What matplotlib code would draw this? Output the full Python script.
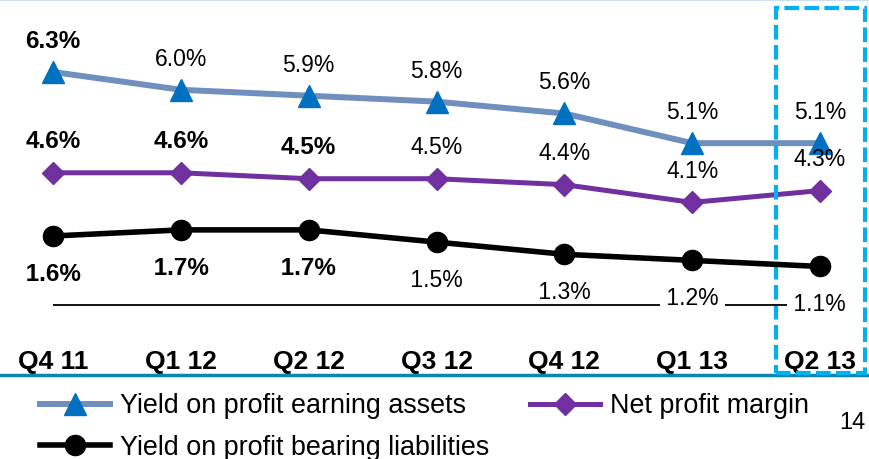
import matplotlib
matplotlib.use("Agg")
import matplotlib.pyplot as plt
from matplotlib.patches import Rectangle
import matplotlib.transforms as mtransforms

plt.rcParams['font.family'] = ['Liberation Sans', 'DejaVu Sans']

# data
quarters = ['Q4 11', 'Q1 12', 'Q2 12', 'Q3 12', 'Q4 12', 'Q1 13', 'Q2 13']
yield_assets = [6.3, 6.0, 5.9, 5.8, 5.6, 5.1, 5.1]
net_margin = [4.6, 4.6, 4.5, 4.5, 4.4, 4.1, 4.3]
yield_liab = [1.6, 1.7, 1.7, 1.5, 1.3, 1.2, 1.1]
assets_bold = [True, False, False, False, False, False, False]
margin_bold = [True, True, True, False, False, False, False]
liab_bold = [True, True, True, False, False, False, False]
ref_level = 0.47  # thin baseline under the liabilities series

c_assets_line = '#6f8fbf'
c_assets_mk = '#0070c0'
c_margin = '#7030a0'
c_liab = '#000000'
c_frame = '#0a87b0'
c_box = '#00b0f0'

fig = plt.figure(figsize=(8.7, 4.59), dpi=100)
ax = fig.add_axes([0, 1 - 375 / 459, 1, 375 / 459])
ax2 = ax.twinx()

x = list(range(len(quarters)))
l1, = ax.plot(x, yield_assets, color=c_assets_line, lw=4.3, marker='^', ms=16,
              mfc=c_assets_mk, mec=c_assets_mk, zorder=3,
              label='Yield on profit earning assets')
l3, = ax.plot(x, net_margin, color=c_margin, lw=3.6, marker='D', ms=11,
              mfc=c_margin, mec=c_margin, zorder=3, label='Net profit margin')
l2, = ax2.plot(x, yield_liab, color=c_liab, lw=4, marker='o', ms=14.5,
               zorder=3, label='Yield on profit bearing liabilities')
ax2.hlines(ref_level, x[0], x[-1], color='black', lw=1.3, zorder=1)

ax.set_xlim(-0.4146, 6.391)
ax.set_ylim(1.19, 7.514)
ax2.set_ylim(-0.679, 5.469)


def fsize(b):
    return 17.5 if b else 16.5


# value labels
for xi, v, b in zip(x, yield_assets, assets_bold):
    ax.annotate(f'{v:.1f}%', (xi, v), xytext=(0, 22), textcoords='offset points',
                ha='center', va='center', fontsize=fsize(b),
                fontweight='bold' if b else 'normal', zorder=5)
for xi, v, b in zip(x, net_margin, margin_bold):
    ax.annotate(f'{v:.1f}%', (xi, v), xytext=(0, 22.5), textcoords='offset points',
                ha='center', va='center', fontsize=fsize(b),
                fontweight='bold' if b else 'normal', zorder=5)
for xi, v, b in zip(x, yield_liab, liab_bold):
    ax2.annotate(f' {v:.1f}% ', (xi, v), xytext=(0, -27.5), textcoords='offset points',
                 ha='center', va='center', fontsize=fsize(b),
                 fontweight='bold' if b else 'normal', zorder=5,
                 bbox=dict(boxstyle='square,pad=0', fc='white', ec='none'))

# x tick labels sit inside the axes, above the bottom rule
ax.set_xticks(x)
ax.set_xticklabels(quarters, fontsize=19, fontweight='bold')
ax.tick_params(axis='x', length=0, pad=-18)
ax.tick_params(axis='y', left=False, labelleft=False)
ax2.tick_params(axis='y', right=False, labelright=False)
for a in (ax, ax2):
    for s in ('left', 'right'):
        a.spines[s].set_visible(False)
ax2.spines['top'].set_visible(False)
ax2.spines['bottom'].set_visible(False)
ax.spines['bottom'].set_color(c_frame)
ax.spines['bottom'].set_linewidth(2.5)
ax.spines['top'].set_color('#cfe0f2')
ax.spines['top'].set_linewidth(1.5)

# dashed highlight around latest quarter
trans = mtransforms.blended_transform_factory(ax.transData, ax.transAxes)
box = Rectangle((5.656, 0.005), 0.696, 0.974, transform=trans, fill=False,
                ec=c_box, lw=3, ls=(0, (3.5, 1.3)), zorder=6, clip_on=False)
ax.add_patch(box)

fig.legend(handles=[l1, l2, l3], ncol=2, loc='upper left',
           bbox_to_anchor=(40 / 870, 1 - 393 / 459), frameon=False,
           fontsize=19.4, handlelength=2.6, handletextpad=0.38,
           columnspacing=1.5, labelspacing=0.58, borderpad=0, borderaxespad=0)

fig.text(866 / 870, 1 - 423 / 459, '14', fontsize=17, ha='right', va='center')

fig.savefig('out.png', dpi=100)
